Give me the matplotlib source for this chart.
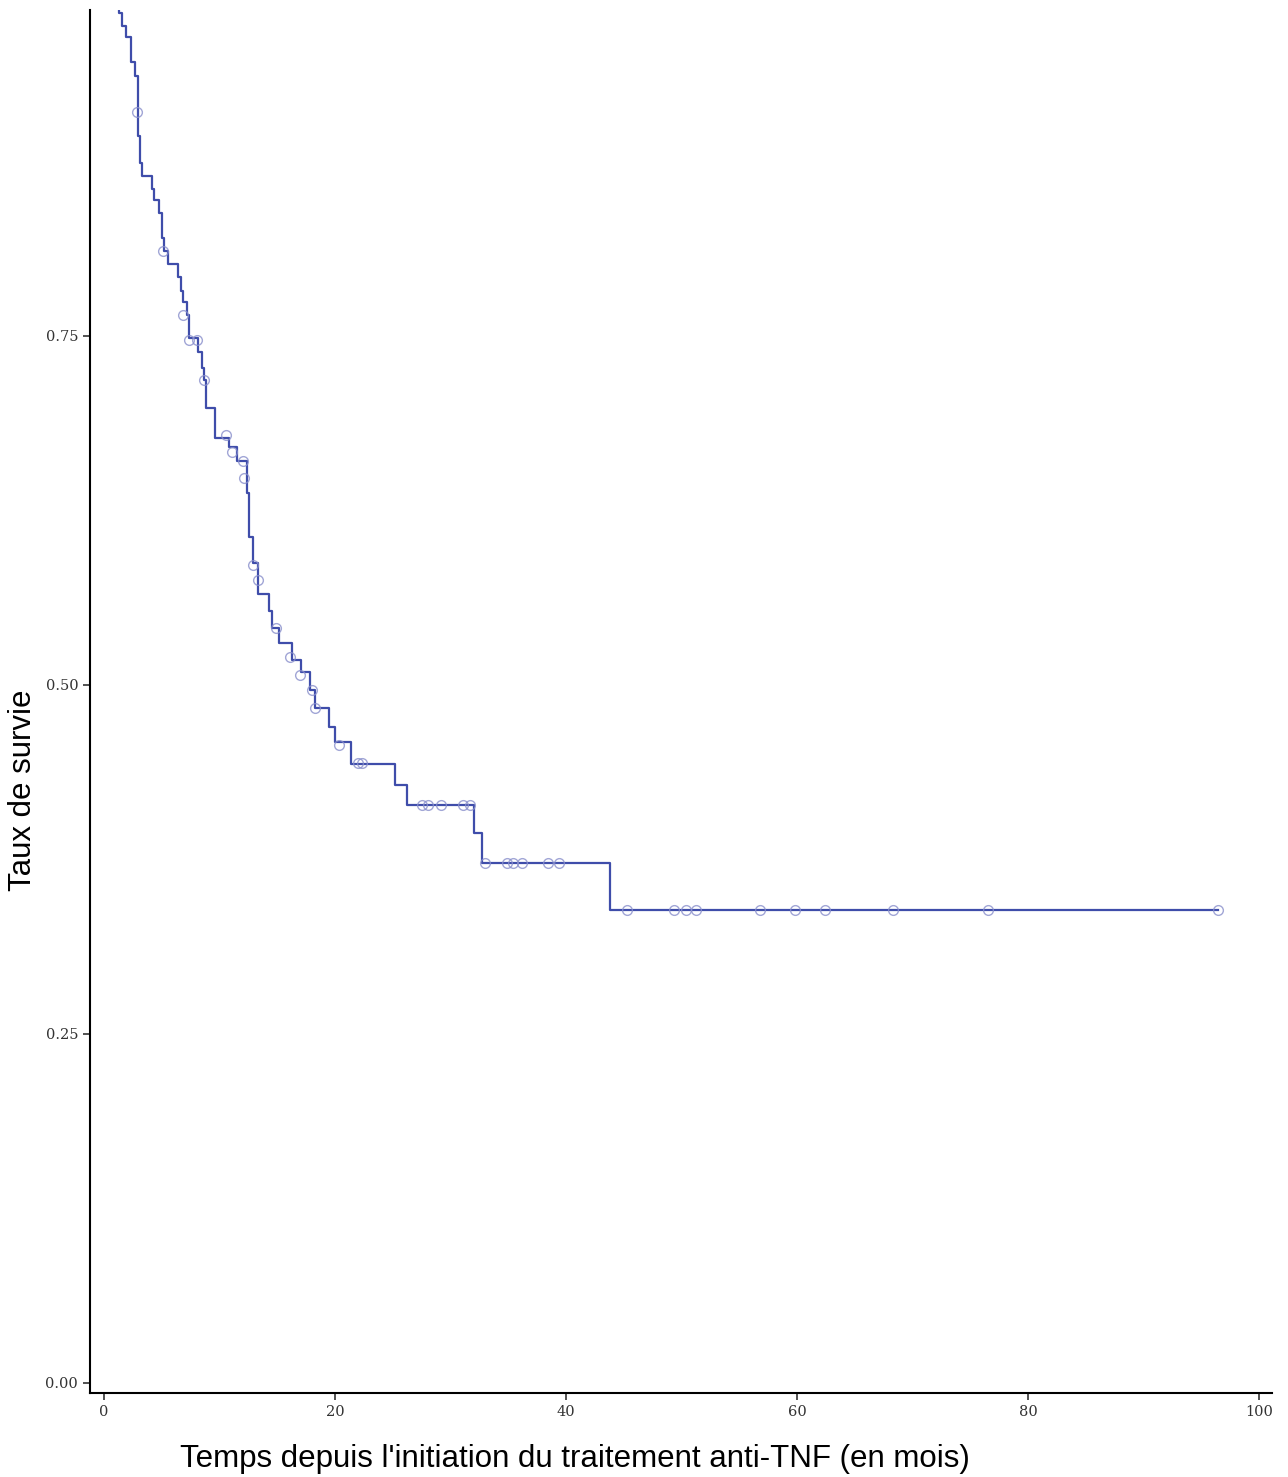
import numpy as np
import matplotlib.pyplot as plt

# temps des evenements et survie apres chaque chute
event_t = [0, 1.30, 1.56, 1.90, 2.34, 2.68, 2.94, 3.12, 3.29, 4.16, 4.33, 4.76, 5.02, 5.19, 5.54,
           6.41, 6.67, 6.84, 7.19, 7.36, 8.14, 8.48, 8.66, 8.83, 9.61, 10.82, 11.52, 12.38, 12.55,
           12.90, 13.33, 14.29, 14.55, 15.15, 16.28, 17.06, 17.84, 18.27, 19.48, 20.00, 21.39,
           25.19, 26.23, 32.03, 32.73, 43.81]
event_s = [1.0, 0.981, 0.972, 0.964, 0.946, 0.936, 0.893, 0.874, 0.864, 0.855, 0.847, 0.838, 0.820,
           0.811, 0.801, 0.792, 0.782, 0.774, 0.765, 0.748, 0.738, 0.727, 0.718, 0.698, 0.677, 0.670,
           0.660, 0.637, 0.606, 0.587, 0.565, 0.553, 0.541, 0.530, 0.518, 0.509, 0.496, 0.483, 0.470,
           0.459, 0.443, 0.428, 0.414, 0.394, 0.372, 0.339]
end_t = 96.4

# censures
cens_t = [2.86, 5.11, 6.84, 7.36, 8.05, 8.66, 10.56, 11.08, 12.0, 12.12, 12.90, 13.33, 14.89, 16.10,
          16.97, 18.01, 18.27, 20.35, 22.0, 22.34, 27.53, 28.05, 29.18, 31.08, 31.69,
          33.0, 34.9, 35.4, 36.2, 38.4, 39.4,
          45.3, 49.3, 50.4, 51.2, 56.8, 59.8, 62.4, 68.3, 76.5, 96.4]
cens_s = [0.910, 0.811, 0.765, 0.747, 0.747, 0.718, 0.679, 0.667, 0.660, 0.648, 0.586, 0.575, 0.541,
          0.520, 0.507, 0.496, 0.483, 0.457, 0.444, 0.444, 0.414, 0.414, 0.414, 0.414, 0.414,
          0.372, 0.372, 0.372, 0.372, 0.372, 0.372,
          0.339, 0.339, 0.339, 0.339, 0.339, 0.339, 0.339, 0.339, 0.339, 0.339]

fig = plt.figure(figsize=(12.88, 14.77), dpi=100)
ax = fig.add_axes([0.0699, 0.0569, 0.9177, 0.9361])

col = '#3F4DAA'
ax.step(event_t + [end_t], event_s + [event_s[-1]], where='post', color=col, lw=1.6)
ax.plot(cens_t, cens_s, 'o', mfc='none', mec='#8A90CC', ms=7, mew=1.0, alpha=0.8)

ax.set_xlim(-1.21, 101.1)
ax.set_ylim(-0.0072, 0.983)
ax.set_xticks([0, 20, 40, 60, 80, 100])
ax.set_yticks([0, 0.25, 0.5, 0.75])
ax.set_yticklabels(['0.00', '0.25', '0.50', '0.75'])
for lab in ax.get_xticklabels() + ax.get_yticklabels():
    lab.set_family('DejaVu Serif')
    lab.set_fontsize(10.5)
    lab.set_color('#333333')
ax.tick_params(length=5, width=1.2, color='#333333')
ax.spines['top'].set_visible(False)
ax.spines['right'].set_visible(False)
ax.spines['left'].set_linewidth(1.5)
ax.spines['bottom'].set_linewidth(1.5)

ax.set_xlabel("Temps depuis l'initiation du traitement anti-TNF (en mois)",
              family='Liberation Sans', fontsize=22.5, labelpad=18, x=0.41)
fig.text(23 / 1288, 1 - 790 / 1477, 'Taux de survie', family='Liberation Sans',
         fontsize=22.5, rotation=90, ha='center', va='center')

fig.savefig('out.png', dpi=100)
